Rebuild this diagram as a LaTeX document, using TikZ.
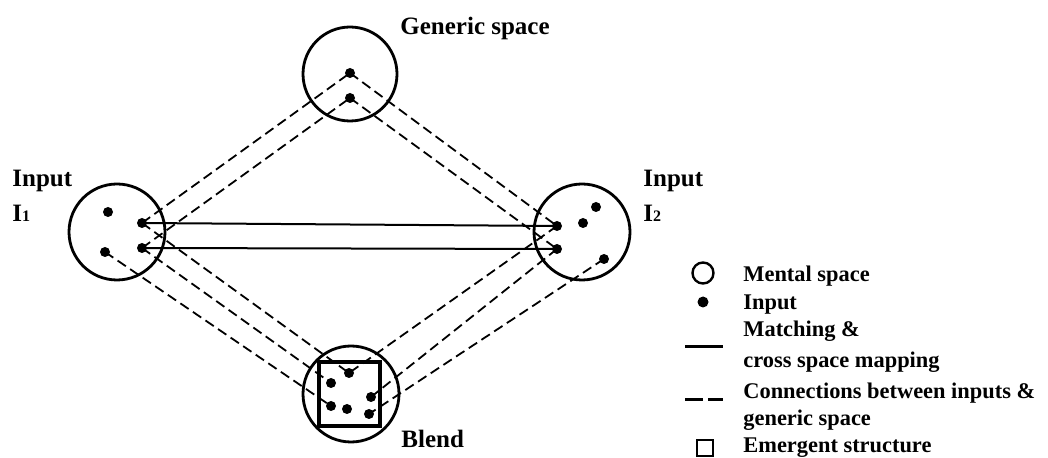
\documentclass[tikz,border=0pt]{standalone}
\usepackage{fontspec}
\setmainfont{Liberation Serif}
\begin{document}
\begin{tikzpicture}[x=0.5pt,y=-0.5pt,
  space/.style={draw,circle,line width=1.4pt,minimum size=48pt,inner sep=0pt},
  pt/.style={circle,fill,inner sep=0pt,minimum size=5pt},
  match/.style={line width=1pt},
  conn/.style={line width=0.9pt,dash pattern=on 5pt off 2.6pt},
  lbl/.style={font=\fontsize{12.5}{14}\selectfont\bfseries,anchor=base west,inner sep=0pt},
  leg/.style={font=\fontsize{11.2}{13}\selectfont\bfseries,anchor=base west,inner sep=0pt}]
\useasboundingbox (0,0) rectangle (1048,458);
% mental spaces
\node[space,minimum size=47pt] (G) at (350,74) {};
\node[space] (I1) at (117,232) {};
\node[space] (I2) at (582,232) {};
\node[space] (B) at (351,394) {};
\node[draw,line width=2pt,minimum width=30.5pt,minimum height=32pt,inner sep=0pt] (E) at (349.5,394) {};
% points
\coordinate (g1) at (350,73); \coordinate (g2) at (350,98);
\coordinate (a1) at (108,212); \coordinate (a2) at (142,223);
\coordinate (a3) at (105,252); \coordinate (a4) at (142,248);
\coordinate (b1) at (596,207); \coordinate (b2) at (583,223);
\coordinate (b3) at (557,226); \coordinate (b4) at (557,249);
\coordinate (b5) at (604,259);
\coordinate (c1) at (349,373); \coordinate (c2) at (331,383);
\coordinate (c3) at (331,406); \coordinate (c4) at (347,409);
\coordinate (c5) at (371,397); \coordinate (c6) at (369,414);
% connectors
\draw[match] (a2) -- (b3);
\draw[match] (a4) -- (b4);
\draw[conn] (a2) -- (g1);
\draw[conn] (a4) -- (g2);
\draw[conn] (g1) -- (b3);
\draw[conn] (g2) -- (b4);
\draw[conn] (a2) -- (c1);
\draw[conn] (a4) -- (c2);
\draw[conn] (a3) -- (c3);
\draw[conn] (b3) -- (c1);
\draw[conn] (b4) -- (c5);
\draw[conn] (b5) -- (c6);
\foreach \p in {g1,g2,a1,a2,a3,a4,b1,b2,b3,b4,b5,c1,c2,c3,c4,c5,c6}
  \node[pt] at (\p) {};
% labels
\node[lbl] (tG) at (400,35) {Generic space};
\node[lbl] (tI1a) at (12,187) {Input};
\node[lbl] (tI1b) at (12,222) {I{\fontsize{8}{9}\selectfont 1}};
\node[lbl] (tI2a) at (643,187) {Input};
\node[lbl] (tI2b) at (643,222) {I{\fontsize{8}{9}\selectfont 2}};
\node[lbl] (tB) at (401,448) {Blend};
% legend
\node[draw,circle,line width=1.2pt,minimum size=10.5pt,inner sep=0pt] (l1) at (703,273) {};
\node[pt,minimum size=5.5pt] (l2) at (703,302) {};
\coordinate (l3a) at (685,347); \coordinate (l3b) at (723,347);
\draw[line width=1.5pt] (l3a) -- (l3b);
\coordinate (l4a) at (685,400); \coordinate (l4b) at (723,400);
\draw[line width=1.5pt,dash pattern=on 9pt off 2.5pt] (l4a) -- (l4b);
\node[draw,line width=1.2pt,minimum size=8pt,inner sep=0pt] (l5) at (705,448) {};
\node[leg] at (743,282) {Mental space};
\node[leg] at (743,310) {Input};
\node[leg] at (743,337) {Matching \&};
\node[leg] at (743,368) {cross space mapping};
\node[leg] at (743,399) {Connections between inputs \&};
\node[leg] at (743,426) {generic space};
\node[leg] at (743,452) {Emergent structure};
\end{tikzpicture}
\end{document}
